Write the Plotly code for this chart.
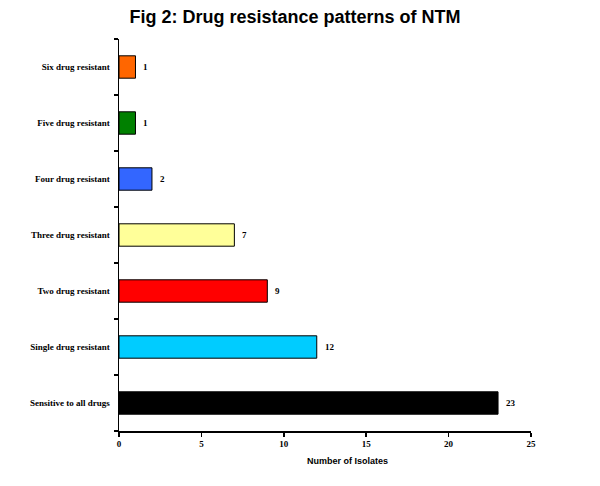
import plotly.graph_objects as go

categories = ["Sensitive to all drugs", "Single drug resistant", "Two drug resistant",
              "Three drug resistant", "Four drug resistant", "Five drug resistant",
              "Six drug resistant"]
values = [23, 12, 9, 7, 2, 1, 1]
colors = ["#000000", "#00CCFF", "#FF0000", "#FFFF99", "#3366FF", "#008000", "#FF6600"]
x_ticks = [0, 5, 10, 15, 20, 25]

serif = "Liberation Serif, Times New Roman, serif"
sans = "Liberation Sans, Arial, sans-serif"

fig = go.Figure()
fig.add_trace(go.Bar(
    y=categories, x=values, orientation="h",
    marker=dict(color=colors, line=dict(color="#000000", width=1)),
    width=0.4, hoverinfo="skip",
))

for cat, v in zip(categories, values):
    fig.add_annotation(
        x=v, y=cat, xref="x", yref="y", text=f"<b>{v}</b>", showarrow=False,
        xanchor="left", yanchor="middle", xshift=6,
        font=dict(family=serif, size=9, color="#000000"),
    )

fig.update_layout(
    width=600, height=486,
    margin=dict(l=119, r=69, t=39, b=55),
    paper_bgcolor="white", plot_bgcolor="white",
    showlegend=False, hovermode=False,
    title=dict(text="<b>Fig 2: Drug resistance patterns of NTM</b>",
               font=dict(family=sans, size=18, color="#000000"),
               x=295 / 600, xanchor="center", y=1 - 17 / 486, yanchor="middle"),
)
fig.update_xaxes(
    range=[0, 25], tickvals=x_ticks, ticktext=[str(t) for t in x_ticks],
    showgrid=False, zeroline=False,
    showline=True, linecolor="#000000", linewidth=1.5,
    ticks="outside", ticklen=4, tickcolor="#000000", tickwidth=1.5,
    tickfont=dict(family=serif, size=9, color="#000000", weight="bold"),
)
fig.update_yaxes(
    categoryorder="array", categoryarray=categories,
    showgrid=False, zeroline=False,
    showline=True, linecolor="#000000", linewidth=1.5,
    ticks="outside", ticklen=4, tickcolor="#000000", tickwidth=1.5,
    tickson="boundaries", ticklabelstandoff=6,
    tickfont=dict(family=serif, size=9, color="#000000", weight="bold"),
)
fig.add_annotation(
    text="<b>Number of Isolates</b>", xref="paper", yref="paper",
    x=(347 - 119) / 412, y=-30 / 392, xanchor="center", yanchor="middle",
    showarrow=False, font=dict(family=sans, size=9, color="#000000"),
)
fig.write_html("out.html", config={"displayModeBar": False, "staticPlot": True},
               post_script="document.body.style.margin='0';")
